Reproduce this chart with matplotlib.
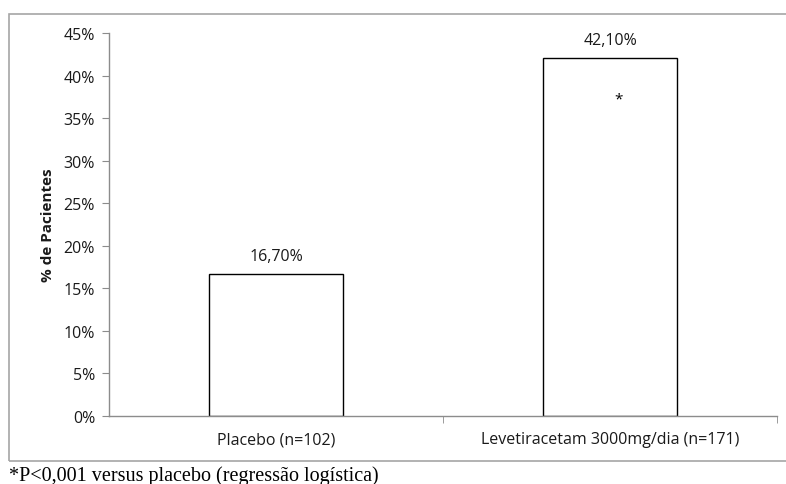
import matplotlib
matplotlib.use("Agg")
import matplotlib.pyplot as plt
from matplotlib.patches import Rectangle
from matplotlib.ticker import FuncFormatter, FixedLocator

categories = ["Placebo (n=102)", "Levetiracetam 3000mg/dia (n=171)"]
values = [0.167, 0.421]
value_labels = ["16,70%", "42,10%"]
yticks = [0, 0.05, 0.10, 0.15, 0.20, 0.25, 0.30, 0.35, 0.40, 0.45]
footnote = "*P<0,001 versus placebo (regressão logística)"
ylabel = "% de Pacientes"

plt.rcParams['font.family'] = ['Open Sans', 'DejaVu Sans']

W, H = 786, 485
fig = plt.figure(figsize=(W / 100, H / 100), dpi=100)

# outer frame
frame = Rectangle((9 / W, 1 - 462 / H), 1.0, (462 - 15) / H, transform=fig.transFigure,
                  fill=False, edgecolor="#a6a6a6", linewidth=1.2)
fig.patches.append(frame)

ax = fig.add_axes([109 / W, 1 - 417 / H, (777 - 109) / W, (417 - 34) / H])
x = list(range(len(categories)))
ax.bar(x, values, width=0.4, color="white", edgecolor="black", linewidth=1.0)
ax.set_xlim(-0.5, len(categories) - 0.5)
ax.set_ylim(0, 0.45)

ax.set_yticks(yticks)
ax.yaxis.set_major_formatter(FuncFormatter(lambda v, p: f"{v * 100:.0f}%"))
ax.set_xticks(x)
ax.set_xticklabels(categories)
ax.xaxis.set_minor_locator(FixedLocator([0.5, 1.5]))

for s in ["top", "right"]:
    ax.spines[s].set_visible(False)
for s in ["left", "bottom"]:
    ax.spines[s].set_color("#8c8c8c")
    ax.spines[s].set_linewidth(1.0)

ax.tick_params(axis="y", direction="out", length=5, color="#8c8c8c", labelsize=11.5, pad=5,
               labelcolor="#1a1a1a")
ax.tick_params(axis="x", which="major", length=0, labelsize=11.5, pad=11, labelcolor="#1a1a1a")
ax.tick_params(axis="x", which="minor", direction="out", length=5, color="#8c8c8c")

ax.set_ylabel(ylabel, fontsize=11, fontweight="bold", labelpad=6, color="#1a1a1a")

for xi, v, lab in zip(x, values, value_labels):
    ax.annotate(lab, (xi, v), xytext=(0, 7), textcoords="offset points",
                ha="center", va="bottom", fontsize=11.5, color="#1a1a1a")

ax.text(1.025, 0.372, "*", ha="center", va="center", fontsize=11, color="black")

fig.text(9 / W, 1 - 476 / H, footnote, family="Liberation Serif", fontsize=14.5,
         ha="left", va="center", color="black")

fig.savefig("out.png", dpi=100)
